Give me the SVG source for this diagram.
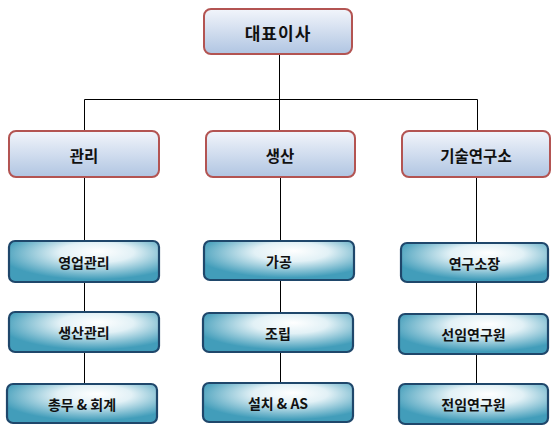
<svg xmlns="http://www.w3.org/2000/svg" width="557" height="434" viewBox="0 0 557 434">
<defs>
<linearGradient id="gTop" x1="0" y1="0" x2="0" y2="1">
<stop offset="0" stop-color="#f2f5fb"/>
<stop offset="1" stop-color="#b0c5e2"/>
</linearGradient>
<radialGradient id="gSub" cx="0.56" cy="0.32" r="0.62" fx="0.6" fy="0.25">
<stop offset="0" stop-color="#ffffff"/>
<stop offset="0.4" stop-color="#e2f1f6"/>
<stop offset="1" stop-color="#429dba"/>
</radialGradient>
</defs>
<style>
.top{fill:url(#gTop);stroke:#b35452;stroke-width:2}
.sub{fill:url(#gSub);stroke:#1f476b;stroke-width:2.2}
.t{font-family:"Malgun Gothic","Noto Sans CJK KR",sans-serif;text-anchor:middle;dominant-baseline:central;fill:#111}
.t0{font-size:17px;font-weight:700;letter-spacing:1px}
.t1{font-size:15.5px;font-weight:600}
.t2{font-size:14px;font-weight:600}
.c{stroke:#000;stroke-width:1;fill:none}
</style>
<rect width="557" height="434" fill="#fff"/>
<g id="connectors">
<path class="c" d="M279.5 54V131" stroke="#444" stroke-width="1.3"/>
<path class="c" d="M84.5 131V99.5H477.5V131"/>
<path class="c" d="M84.5 177V241M84.5 282V312M84.5 352V384"/>
<path class="c" d="M280.5 177V241M280.5 280V313M280.5 352V383"/>
<path class="c" d="M476.5 177V243M476.5 282V314M476.5 354V384"/>
</g>
<g id="ceo"><rect class="top" x="204" y="9" width="148" height="45" rx="7"/><text class="t t0" x="278" y="32">대표이사</text></g>
<g id="gwanri"><rect class="top" x="9" y="131" width="150" height="46" rx="7"/><text class="t t1" x="84" y="155">관리</text></g>
<g id="saengsan"><rect class="top" x="206" y="131" width="149" height="46" rx="7"/><text class="t t1" x="280" y="155">생산</text></g>
<g id="research"><rect class="top" x="402" y="131" width="148" height="46" rx="7"/><text class="t t1" x="476" y="155">기술연구소</text></g>
<g id="sales"><rect class="sub" x="9" y="241" width="150" height="41" rx="6"/><text class="t t2" x="84" y="261.5">영업관리</text></g>
<g id="prodmgmt"><rect class="sub" x="9" y="312" width="150" height="40" rx="6"/><text class="t t2" x="84" y="332">생산관리</text></g>
<g id="general"><rect class="sub" x="7" y="384" width="150" height="39" rx="6"/><text class="t t2" x="82" y="404">총무 &amp; 회계</text></g>
<g id="machining"><rect class="sub" x="204" y="241" width="150" height="39" rx="6"/><text class="t t2" x="279" y="260.5">가공</text></g>
<g id="assembly"><rect class="sub" x="203" y="313" width="150" height="39" rx="6"/><text class="t t2" x="278" y="332.5">조립</text></g>
<g id="install"><rect class="sub" x="203" y="383" width="150" height="39" rx="6"/><text class="t t2" x="278" y="402.5">설치 &amp; AS</text></g>
<g id="director"><rect class="sub" x="401" y="243" width="147" height="39" rx="6"/><text class="t t2" x="474.5" y="262.5">연구소장</text></g>
<g id="senior"><rect class="sub" x="399" y="314" width="149" height="40" rx="6"/><text class="t t2" x="473.5" y="334">선임연구원</text></g>
<g id="fulltime"><rect class="sub" x="399" y="384" width="149" height="40" rx="6"/><text class="t t2" x="473.5" y="404">전임연구원</text></g>
</svg>
